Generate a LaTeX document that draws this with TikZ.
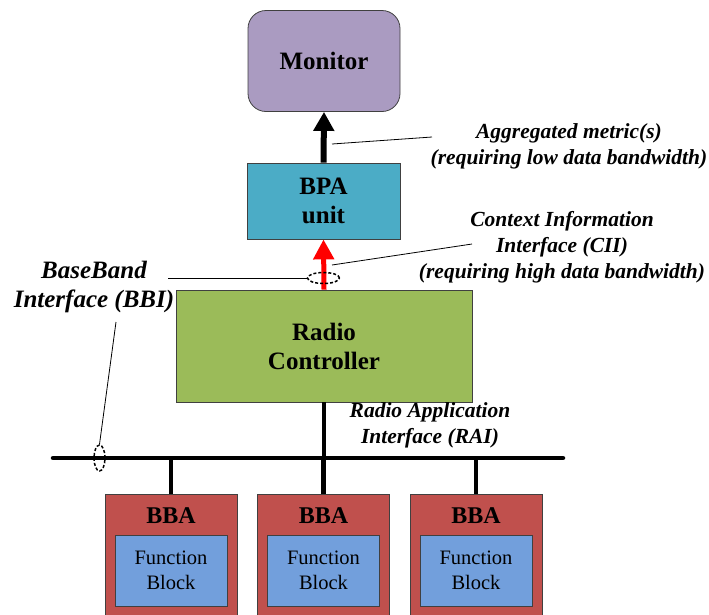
\documentclass[tikz,border=0pt]{standalone}
\usepackage{fontspec}
\setmainfont{Liberation Serif}
\usetikzlibrary{arrows.meta,shapes.geometric}
\definecolor{monitorfill}{RGB}{170,155,193}
\definecolor{bpafill}{RGB}{75,172,198}
\definecolor{rcfill}{RGB}{155,187,89}
\definecolor{bbafill}{RGB}{192,80,77}
\definecolor{fbfill}{RGB}{114,159,220}

\begin{document}
\begin{tikzpicture}[x=1pt,y=-1pt,
    box/.style={draw=black!75, line width=0.8pt, inner sep=0pt, align=center,
      font=\fontsize{25}{29}\selectfont\bfseries},
    note/.style={align=center, font=\fontsize{21.5}{26}\selectfont\bfseries\itshape},
    pointer/.style={line width=0.8pt},
    tap/.style={draw, ellipse, line width=1.5pt, dash pattern=on 3pt off 2pt, inner sep=0pt},
    wire/.style={line width=4.5pt}]
    \useasboundingbox (0,0) rectangle (709,614);
    % Top blocks
    \node[box, fill=monitorfill, rounded corners=18pt, minimum width=152pt, minimum height=101pt]
        (monitor) at (324,61) {Monitor};
    \node[box, fill=bpafill, minimum width=153pt, minimum height=76pt]
        (bpa) at (323.5,201) {BPA\\unit};
    \node[box, fill=rcfill, minimum width=296pt, minimum height=112pt]
        (rc) at (324,346) {Radio\\Controller};
    % Arrows between blocks
    \draw[line width=6pt, -{Triangle[width=20pt,length=19pt]}] (bpa.north) -- (monitor.south);
    \draw[red, line width=5pt, -{Triangle[width=20pt,length=20pt]}] (rc.north) -- (bpa.south);
    % Bus
    \coordinate (busL) at (53,458);
    \coordinate (busR) at (563,458);
    \draw[wire, line cap=round] (busL) -- (busR);
    \draw[wire] (rc.south) -- (rc.south |- busL);
    % BBA blocks
    \foreach \i/\cx in {1/171,2/323.5,3/476} {
        \node[box, fill=bbafill, anchor=north, minimum width=132pt, minimum height=140pt]
            (bba\i) at (\cx,494) {};
        \node[font=\fontsize{24}{28}\selectfont\bfseries] (bbat\i) at (\cx,516) {BBA};
        \node[box, fill=fbfill, minimum width=112pt, minimum height=71pt,
            font=\fontsize{20.5}{25}\selectfont] (fb\i) at (\cx,570.5) {Function\\Block};
        \draw[wire] (bba\i.north) -- (bba\i.north |- busL);
    }
    % Interface taps
    \node[tap, minimum width=32pt, minimum height=11pt] (cii) at (323.5,278) {};
    \node[tap, minimum width=11pt, minimum height=26pt] (bbi) at (99.5,458) {};
    % Labels
    \node[note] (aggr) at (569,146) {Aggregated metric(s)\\(requiring low data bandwidth)};
    \coordinate (aggrA) at (332,144);
    \coordinate (aggrB) at (432,137);
    \draw[pointer] (aggrA) -- (aggrB);
    \node[note] (ciit) at (562,247) {Context Information\\Interface (CII)\\(requiring high data bandwidth)};
    \coordinate (ciiA) at (332,265);
    \coordinate (ciiB) at (472,244);
    \draw[pointer] (ciiA) -- (ciiB);
    \node[note, font=\fontsize{25}{29}\selectfont\bfseries\itshape] (bbit) at (94,287) {BaseBand\\Interface (BBI)};
    \coordinate (bbiA) at (168,278);
    \coordinate (bbiB) at (116,322);
    \draw[pointer] (bbiA) -- (cii.west);
    \draw[pointer] (bbiB) -- (bbi.north);
    \node[note] (rait) at (430,425) {Radio Application\\Interface (RAI)};
\end{tikzpicture}
\end{document}
